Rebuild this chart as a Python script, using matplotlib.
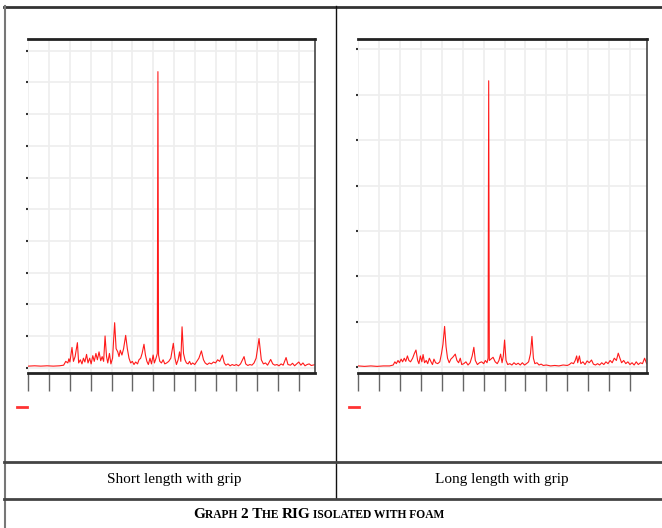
import matplotlib
matplotlib.use("Agg")
import matplotlib.pyplot as plt
from matplotlib.lines import Line2D
from matplotlib.offsetbox import TextArea, HPacker, AnchoredOffsetbox

# Spectrum traces (x in tick units, y in grid units)
short_x = [0.0, 0.3, 0.6, 0.9, 1.2, 1.5, 1.7, 1.8, 1.9, 1.95, 2.0, 2.1, 2.17, 2.25, 2.36,
           2.42, 2.5, 2.58, 2.65, 2.72, 2.8, 2.87, 2.95, 3.02, 3.1, 3.17, 3.25, 3.32, 3.4,
           3.48, 3.55, 3.62, 3.69, 3.76, 3.82, 3.9, 3.97, 4.05, 4.15, 4.22, 4.3, 4.36, 4.42,
           4.5, 4.58, 4.68, 4.76, 4.84, 4.92, 5.0, 5.08, 5.16, 5.25, 5.32, 5.4, 5.47, 5.56,
           5.63, 5.7, 5.77, 5.85, 5.92, 6.0, 6.06, 6.14, 6.2, 6.23, 6.26, 6.32, 6.4, 6.48,
           6.56, 6.65, 6.75, 6.85, 6.97, 7.05, 7.12, 7.2, 7.27, 7.33, 7.39, 7.46, 7.53, 7.6,
           7.68, 7.75, 7.82, 7.9, 8.0, 8.1, 8.2, 8.32, 8.42, 8.5, 8.6, 8.7, 8.8, 8.9, 9.0,
           9.1, 9.2, 9.33, 9.42, 9.5, 9.6, 9.7, 9.8, 9.9, 10.0, 10.1, 10.2, 10.37, 10.45,
           10.55, 10.65, 10.75, 10.85, 10.95, 11.09, 11.2, 11.3, 11.4, 11.5, 11.65, 11.75,
           11.85, 11.95, 12.05, 12.15, 12.25, 12.39, 12.48, 12.6, 12.7, 12.8, 12.9, 13.0,
           13.1, 13.2, 13.3, 13.4, 13.5, 13.6, 13.8]
short_y = [0.05, 0.06, 0.05, 0.06, 0.05, 0.06, 0.08, 0.2, 0.15, 0.28, 0.18, 0.64, 0.2, 0.35, 0.79,
           0.15, 0.25, 0.12, 0.3, 0.18, 0.42, 0.15, 0.3, 0.12, 0.38, 0.2, 0.45, 0.25, 0.5,
           0.22, 0.35, 0.2, 1.0, 0.35, 0.15, 0.45, 0.12, 0.3, 1.42, 0.6, 0.5, 0.35, 0.55,
           0.4, 0.6, 1.02, 0.6, 0.3, 0.15, 0.2, 0.1, 0.18, 0.12, 0.25, 0.3, 0.45, 0.74,
           0.4, 0.2, 0.1, 0.3, 0.12, 0.4, 0.15, 0.3, 0.45, 9.34, 0.4, 0.2, 0.15, 0.25,
           0.12, 0.15, 0.2, 0.3, 0.77, 0.3, 0.1, 0.25, 0.5, 0.2, 1.29, 0.45, 0.25, 0.15,
           0.12, 0.2, 0.1, 0.15, 0.1, 0.2, 0.3, 0.53, 0.25, 0.15, 0.1, 0.15, 0.12, 0.18, 0.15,
           0.25, 0.2, 0.4, 0.15, 0.08, 0.12, 0.06, 0.1, 0.07, 0.1, 0.06, 0.12, 0.35, 0.12,
           0.07, 0.1, 0.08, 0.15, 0.3, 0.92, 0.25, 0.12, 0.15, 0.08, 0.26, 0.12,
           0.08, 0.1, 0.06, 0.12, 0.08, 0.32, 0.1, 0.08, 0.14, 0.06, 0.12, 0.18,
           0.08, 0.15, 0.06, 0.1, 0.12, 0.07, 0.1]

long_x = [0.0, 0.3, 0.6, 0.9, 1.2, 1.5, 1.67, 1.75, 1.82, 1.9, 1.97, 2.05, 2.12, 2.2, 2.27,
          2.35, 2.42, 2.5, 2.6, 2.68, 2.76, 2.84, 2.9, 2.97, 3.04, 3.1, 3.17, 3.25, 3.32,
          3.4, 3.48, 3.55, 3.62, 3.7, 3.8, 3.9, 3.98, 4.05, 4.13, 4.2, 4.27, 4.35, 4.43,
          4.52, 4.64, 4.72, 4.8, 4.88, 4.95, 5.05, 5.15, 5.25, 5.35, 5.45, 5.53, 5.6, 5.7,
          5.8, 5.9, 6.0, 6.08, 6.16, 6.21, 6.24, 6.27, 6.35, 6.45, 6.55, 6.65, 6.73, 6.81,
          6.88, 6.94, 7.0, 7.07, 7.15, 7.25, 7.35, 7.45, 7.55, 7.65, 7.75, 7.85, 7.95, 8.05,
          8.15, 8.24, 8.31, 8.38, 8.45, 8.55, 8.65, 8.75, 8.85, 9.0, 9.2, 9.4, 9.6, 9.8,
          10.0, 10.1, 10.2, 10.3, 10.38, 10.45, 10.5, 10.58, 10.65, 10.75, 10.85, 10.95,
          11.05, 11.16, 11.25, 11.35, 11.45, 11.55, 11.65, 11.75, 11.85, 11.95, 12.05, 12.15,
          12.25, 12.35, 12.44, 12.52, 12.6, 12.7, 12.8, 12.9, 13.0, 13.1, 13.2, 13.3, 13.4,
          13.5, 13.6, 13.7, 13.8]
long_y = [0.03, 0.02, 0.03, 0.02, 0.03, 0.03, 0.05, 0.12, 0.08, 0.15, 0.1, 0.18, 0.12, 0.2, 0.13,
          0.25, 0.15, 0.12, 0.2, 0.3, 0.38, 0.15, 0.08, 0.25, 0.12, 0.28, 0.1, 0.15, 0.08,
          0.2, 0.12, 0.06, 0.18, 0.1, 0.08, 0.12, 0.3, 0.5, 0.9, 0.45, 0.2, 0.1, 0.18,
          0.22, 0.29, 0.15, 0.1, 0.2, 0.06, 0.08, 0.12, 0.05, 0.1, 0.25, 0.44, 0.15, 0.06,
          0.1, 0.12, 0.08, 0.15, 0.1, 0.2, 6.31, 0.15, 0.18, 0.22, 0.12, 0.08, 0.15, 0.29,
          0.1, 0.25, 0.6, 0.15, 0.06, 0.08, 0.05, 0.1, 0.06, 0.09, 0.05, 0.1, 0.05, 0.08,
          0.12, 0.3, 0.68, 0.2, 0.08, 0.1, 0.05, 0.07, 0.04, 0.05, 0.03, 0.04, 0.03, 0.05,
          0.04, 0.06, 0.1, 0.08, 0.15, 0.25, 0.1, 0.25, 0.08, 0.12, 0.06, 0.14,
          0.1, 0.16, 0.07, 0.05, 0.08, 0.05, 0.1, 0.06, 0.12, 0.08, 0.15, 0.1,
          0.2, 0.15, 0.31, 0.2, 0.1, 0.15, 0.08, 0.12, 0.06, 0.1, 0.05, 0.12, 0.06,
          0.1, 0.08, 0.2, 0.08]

panel_labels = ["Short length with grip", "Long length with grip"]
short_yticks = list(range(0, 11))
long_yticks = list(range(0, 8))
xticks = list(range(0, 14))

W, H = 662, 528
fig = plt.figure(figsize=(W / 100, H / 100), dpi=100)

def px_box(x0, x1, y_top, y_bot):
    return [x0 / W, 1 - y_bot / H, (x1 - x0) / W, (y_bot - y_top) / H]

def style(ax, yticks, ylim, xlim):
    ax.set_xlim(*xlim)
    ax.set_ylim(*ylim)
    ax.set_xticks(xticks)
    ax.set_yticks(yticks)
    ax.set_xticklabels([])
    ax.set_yticklabels([])
    ax.grid(True, color="#eeeeee", linewidth=1.2)
    ax.set_axisbelow(True)
    ax.spines["left"].set_visible(False)
    ax.spines["top"].set_linewidth(2)
    ax.spines["top"].set_color("#222222")
    ax.spines["bottom"].set_linewidth(2)
    ax.spines["bottom"].set_color("#222222")
    ax.spines["right"].set_linewidth(1.2)
    ax.spines["right"].set_color("#444444")
    ax.tick_params(axis="x", length=13, width=1, color="#666666", pad=0)
    ax.tick_params(axis="y", length=1.5, width=1.5, color="#333333")

ax1 = fig.add_axes(px_box(28.3, 315, 39, 373))
ax1.plot(short_x, short_y, color="#ff1a1a", linewidth=0.8)
style(ax1, short_yticks, (-0.167, 10.37), (0, 13.78))

ax2 = fig.add_axes(px_box(358.3, 647.3, 39, 373))
ax2.plot(long_x, long_y, color="#ff1a1a", linewidth=0.8)
style(ax2, long_yticks, (-0.126, 7.23), (0, 13.83))

# legend dashes
for x0 in (17, 349):
    fig.add_artist(Line2D([x0 / W, (x0 + 10) / W], [1 - 407 / H] * 2,
                          color="#ff3333", linewidth=2))

# table borders
def hline(y, x0, x1, color, lw):
    fig.add_artist(Line2D([x0 / W, x1 / W], [1 - y / H] * 2, color=color, linewidth=lw))

def vline(x, y0, y1, color, lw):
    fig.add_artist(Line2D([x / W] * 2, [1 - y0 / H, 1 - y1 / H], color=color, linewidth=lw))

hline(6.5, 4, W, "#333333", 2)
vline(4.5, 6, H, "#777777", 1.5)
vline(336, 6, 498, "#111111", 1)
hline(462, 4, W, "#444444", 2)
hline(498.5, 4, W, "#444444", 2)

for cx, lab in zip((174, 502), panel_labels):
    fig.text(cx / W, 1 - 480 / H, lab, ha="center", va="center",
             fontsize=11, family="Liberation Serif")

# small-caps caption
pieces = [("G", 11), ("RAPH ", 8.3), ("2 T", 11), ("HE ", 8.3), ("RIG", 11),
          (" ISOLATED WITH FOAM", 8.3)]
areas = [TextArea(t, textprops=dict(fontsize=s, family="Liberation Serif",
                                    fontweight="bold")) for t, s in pieces]
box = HPacker(children=areas, align="baseline", pad=0, sep=0)
anch = AnchoredOffsetbox(loc="center", child=box, frameon=False,
                         bbox_to_anchor=(319 / W, 1 - 515 / H),
                         bbox_transform=fig.transFigure, pad=0, borderpad=0)
fig.add_artist(anch)

fig.savefig("out.png", dpi=100)
